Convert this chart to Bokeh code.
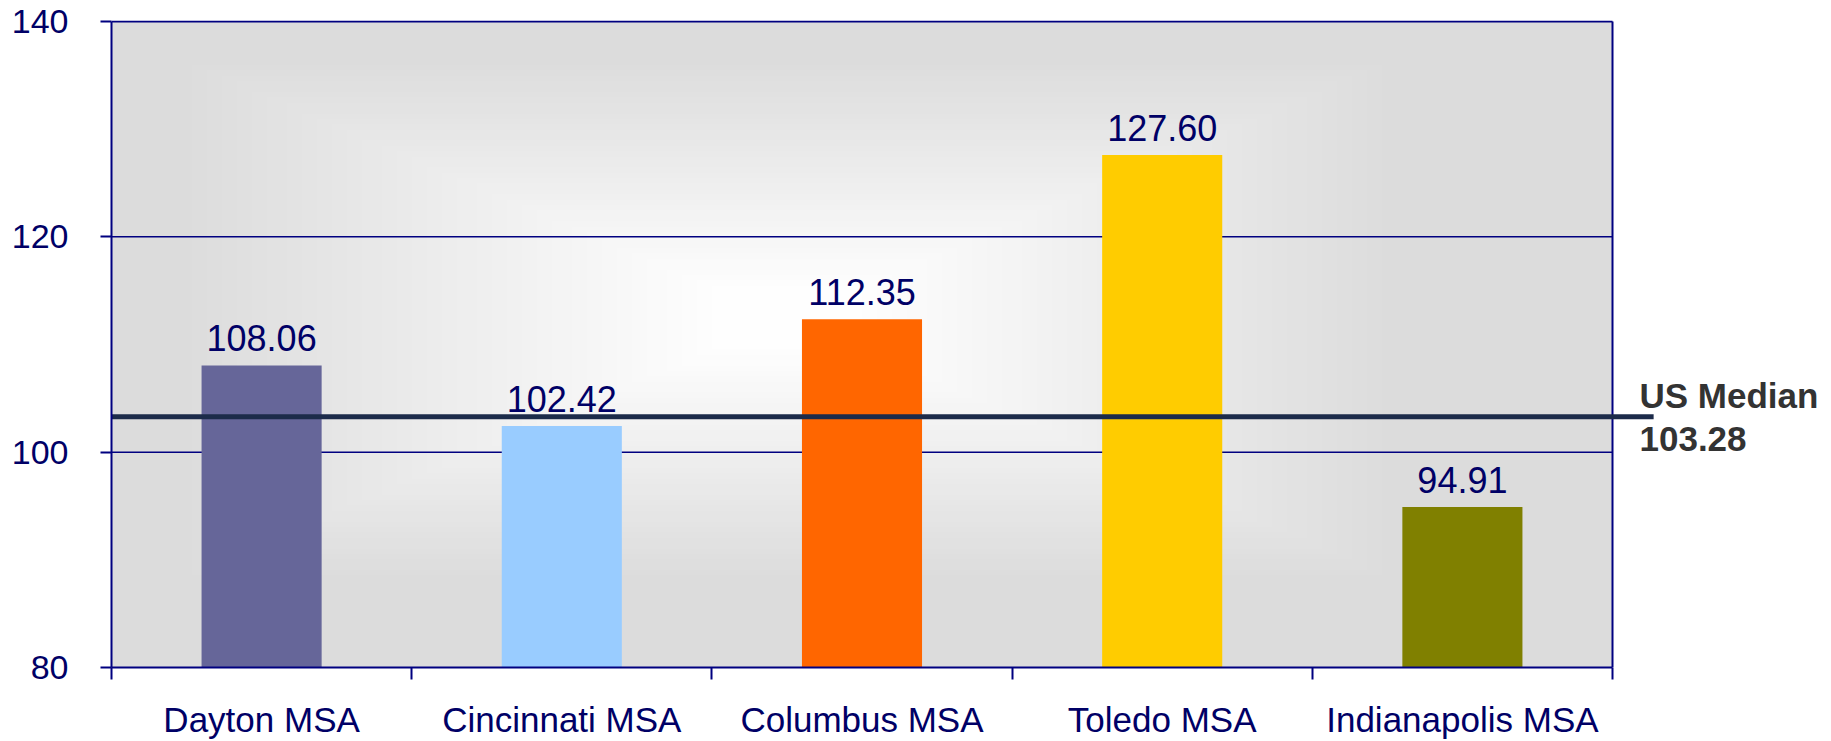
import numpy as np
from bokeh.plotting import figure
from bokeh.models import Range1d, FixedTicker, ColumnDataSource
from bokeh.core.properties import value
from bokeh.embed import file_html
from bokeh.resources import INLINE

# ---- data ----
categories = ["Dayton MSA", "Cincinnati MSA", "Columbus MSA", "Toledo MSA", "Indianapolis MSA"]
values = [108.06, 102.42, 112.35, 127.60, 94.91]
bar_colors = ["#666699", "#99ccff", "#ff6600", "#ffcc00", "#808000"]
y_ticks = [80, 100, 120, 140]
median_name = "US Median"
median_value = 103.28

# ---- layout constants ----
W, H = 1828, 741
MB_LEFT, MB_RIGHT, MB_TOP, MB_BOTTOM = 111, 0, 20, 74
PLOT_W = 1501           # pixel width of the category area
FRAME_W = W - MB_LEFT - MB_RIGHT
FRAME_H = H - MB_TOP - MB_BOTTOM
n = len(categories)
x_start = 0.5
x_end = x_start + n * FRAME_W / PLOT_W
y0, y1 = y_ticks[0], y_ticks[-1]
y_end = y0 + (y1 - y0) * FRAME_H / (FRAME_H - 1)

NAVY = "#000080"
TXT = "#000066"
FONT = "Liberation Sans"

p = figure(width=W, height=H, output_backend="svg", toolbar_location=None,
           x_range=Range1d(x_start, x_end), y_range=Range1d(y0, y_end),
           min_border_left=MB_LEFT, min_border_right=MB_RIGHT,
           min_border_top=MB_TOP, min_border_bottom=MB_BOTTOM)
p.outline_line_color = None
p.background_fill_color = "white"
p.border_fill_color = "white"
p.xgrid.visible = False
p.ygrid.visible = False

# ---- gradient background (style) ----
nx, ny = 300, 120
u = np.linspace(0, 1, nx)[None, :]
v = np.linspace(0, 1, ny)[:, None]
t = np.maximum(np.abs(u - 0.45) / 0.5, np.abs(v - 0.54) / 0.5)
g = 254 - 34 * np.clip((t - 0.1) / 0.72, 0, 1)
g = g.astype(np.uint32)
img = (255 << 24) | (g << 16) | (g << 8) | g
p.image_rgba(image=[img.astype(np.uint32)], x=x_start, y=y0, dw=n, dh=y1 - y0, level="image")

xs = [i + 1 for i in range(n)]
bounds = [x_start + i for i in range(n + 1)]

# grid lines / border
p.segment(x0=[x_start] * 3, y0=y_ticks[1:], x1=[bounds[-1]] * 3, y1=y_ticks[1:],
          line_color=NAVY, line_width=[1.5, 1.5, 2])
p.segment(x0=[bounds[-1]], y0=[y0], x1=[bounds[-1]], y1=[y1], line_color=NAVY, line_width=2)

# bars
src = ColumnDataSource(dict(x=xs, top=values, color=bar_colors,
                            label=[f"{v_:.2f}" for v_ in values]))
p.vbar(x="x", top="top", bottom=y0, width=0.4, fill_color="color", line_color=None, source=src)
p.text(x="x", y="top", text="label", source=src, text_align="center",
       text_baseline="alphabetic", y_offset=-27, text_color=TXT,
       text_font=value(FONT), text_font_size="36px")

# median line
p.segment(x0=[x_start], y0=[median_value], x1=[bounds[-1] + 0.137], y1=[median_value],
          line_color="#1c2b4a", line_width=5)
p.text(x=[bounds[-1]], y=[median_value], text=[median_name], x_offset=27, y_offset=-21,
       text_baseline="alphabetic", text_align="left", text_color="#333333",
       text_font=value(FONT), text_font_style="bold", text_font_size="35px")
p.text(x=[bounds[-1]], y=[median_value], text=[f"{median_value:.2f}"], x_offset=27, y_offset=22,
       text_baseline="alphabetic", text_align="left", text_color="#333333",
       text_font=value(FONT), text_font_style="bold", text_font_size="35px")

# y axis
ya = p.yaxis[0]
ya.ticker = FixedTicker(ticks=y_ticks)
ya.bounds = (y0, y1)
ya.axis_line_color = NAVY
ya.axis_line_width = 2
ya.major_tick_line_color = NAVY
ya.major_tick_line_width = 2
ya.major_tick_out = 11
ya.major_tick_in = 0
ya.minor_tick_line_color = None
ya.major_label_standoff = 32
ya.major_label_text_font = FONT
ya.major_label_text_font_size = "34px"
ya.major_label_text_color = TXT

# x axis
xa = p.xaxis[0]
xa.ticker = FixedTicker(ticks=xs, minor_ticks=bounds)
xa.bounds = (bounds[0], bounds[-1])
xa.major_label_overrides = {x: c for x, c in zip(xs, categories)}
xa.axis_line_color = NAVY
xa.axis_line_width = 2
xa.major_tick_line_color = None
xa.major_tick_out = 0
xa.major_tick_in = 0
xa.minor_tick_line_color = NAVY
xa.minor_tick_line_width = 2
xa.minor_tick_out = 12
xa.minor_tick_in = 0
xa.major_label_standoff = 20
xa.major_label_text_font = FONT
xa.major_label_text_font_size = "35px"
xa.major_label_text_color = TXT

open("out.html", "w").write(file_html(p, INLINE))
